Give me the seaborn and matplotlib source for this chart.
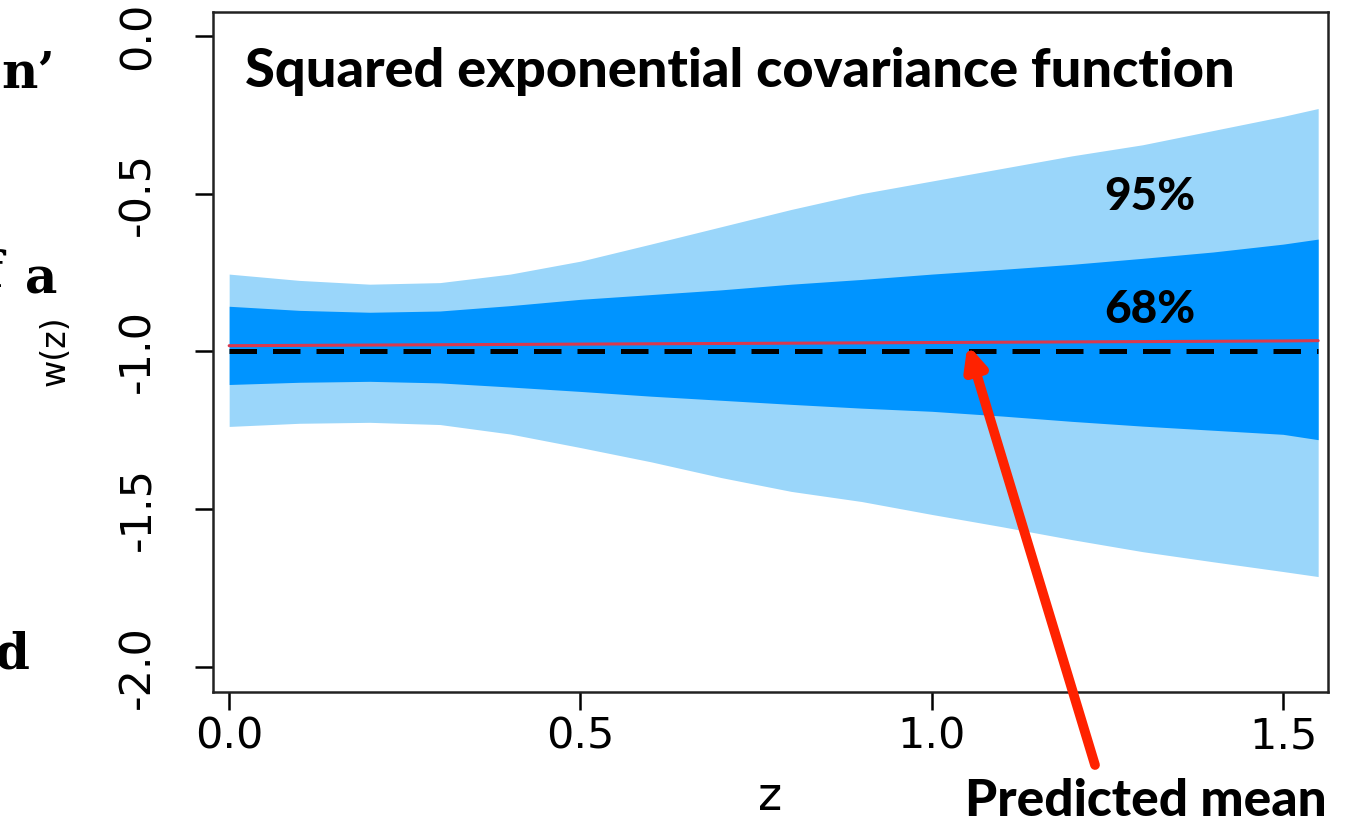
import numpy as np
import pandas as pd
import matplotlib
matplotlib.use("Agg")
import matplotlib.pyplot as plt
from matplotlib import font_manager as fm
import seaborn as sns

# ---- data ----
z = [0.0, 0.1, 0.2, 0.3, 0.4, 0.5, 0.6, 0.7, 0.8, 0.9, 1.0, 1.1, 1.2, 1.3, 1.4, 1.5, 1.55]
upper95 = [-0.755, -0.775, -0.787, -0.782, -0.755, -0.714, -0.66, -0.605, -0.55, -0.50,
           -0.46, -0.42, -0.38, -0.345, -0.30, -0.255, -0.23]
upper68 = [-0.857, -0.870, -0.876, -0.872, -0.855, -0.835, -0.82, -0.805, -0.787, -0.772,
           -0.755, -0.74, -0.724, -0.705, -0.685, -0.66, -0.644]
lower68 = [-1.105, -1.098, -1.095, -1.100, -1.113, -1.127, -1.142, -1.155, -1.168, -1.18,
           -1.19, -1.205, -1.222, -1.237, -1.25, -1.263, -1.28]
lower95 = [-1.238, -1.228, -1.225, -1.232, -1.262, -1.305, -1.35, -1.40, -1.444, -1.476,
           -1.517, -1.556, -1.597, -1.635, -1.667, -1.698, -1.714]
pred_mean = [-0.982, -0.981, -0.980, -0.979, -0.978, -0.977, -0.976, -0.975, -0.974, -0.973,
             -0.972, -0.971, -0.970, -0.969, -0.968, -0.967, -0.966]
true_w = [-1.0] * len(z)

xticks = [0.0, 0.5, 1.0, 1.5]
yticks = [0.0, -0.5, -1.0, -1.5, -2.0]

df = pd.DataFrame({"z": z, "mean": pred_mean, "truth": true_w})

sns.set_style("white")
plt.rcParams["font.family"] = ["DejaVu Sans"]
plt.rcParams["text.color"] = "black"
plt.rcParams["axes.labelcolor"] = "black"
plt.rcParams["xtick.color"] = "black"
plt.rcParams["ytick.color"] = "black"

installed = {f.name for f in fm.fontManager.ttflist}
if "Liberation Sans Narrow" in installed:
    yfont, ysize, ylab_size = "Liberation Sans Narrow", 37, 32
else:
    yfont, ysize, ylab_size = "DejaVu Sans", 31, 24

W, H = 1365, 825
fig = plt.figure(figsize=(13.65, 8.25), dpi=100)
ax = fig.add_axes([213 / W, 1 - 692 / H, (1328 - 213) / W, (692 - 12) / H])

ax.fill_between(z, lower95, upper95, color="#9AD6FA", linewidth=0)
ax.fill_between(z, lower68, upper68, color="#0094FF", linewidth=0)
sns.lineplot(data=df, x="z", y="mean", ax=ax, color="#D9394E", linewidth=2.2)
sns.lineplot(data=df, x="z", y="truth", ax=ax, color="black", linewidth=3.6)
ax.lines[-1].set_dashes([5.5, 3.2])

ax.set_xlim(-0.023, 1.564)
ax.set_ylim(-2.08, 0.076)
ax.set_xticks(xticks)
ax.set_xticklabels([f"{t:.1f}" for t in xticks], fontsize=31)
ax.set_yticks(yticks)
ax.set_yticklabels([f"{t:.1f}" for t in yticks], fontsize=ysize, family=yfont,
                   rotation=90, va="center")
ax.tick_params(axis="both", direction="out", length=13, width=1.8, color="black",
               bottom=True, left=True)
ax.tick_params(axis="x", pad=4)
ax.tick_params(axis="y", pad=26)
for s in ax.spines.values():
    s.set_visible(True)
    s.set_color("#222222")
    s.set_linewidth(1.8)
ax.set_xlabel("z", fontsize=33)
ax.xaxis.set_label_coords((770 - 213) / (1328 - 213), -(775 - 692) / (692 - 12))
ax.set_ylabel("w(z)", fontsize=ylab_size, family=yfont)
ax.yaxis.set_label_coords(-(213 - 72) / (1328 - 213), (692 - 351) / (692 - 12))

bold_font = ["Lato", "DejaVu Sans"]
fig.text(245 / W, 1 - 72 / H, "Squared exponential covariance function",
         fontsize=39, fontweight="black", family=bold_font, va="center", ha="left")
fig.text(1150 / W, 1 - 197 / H, "95%", fontsize=33, fontweight="black",
         family=bold_font, ha="center", va="center")
fig.text(1150 / W, 1 - 310 / H, "68%", fontsize=33, fontweight="black",
         family=bold_font, ha="center", va="center")
fig.text(1146 / W, 1 - 802 / H, "Predicted mean", fontsize=37, fontweight="black",
         family=bold_font, ha="center", va="center")

# slide-text fragments cut at the left edge
frag_font = ["DejaVu Serif"]
fig.text(55 / W, 1 - 75 / H, "n’", fontsize=36, fontweight="bold",
         family=frag_font, ha="right", va="center")
fig.text(57 / W, 1 - 280 / H, "a", fontsize=36, fontweight="bold",
         family=frag_font, ha="right", va="center")
fig.text(3 / W, 1 - 274 / H, "f", fontsize=36, fontweight="bold",
         family=frag_font, ha="right", va="center")
fig.text(30 / W, 1 - 655 / H, "d", fontsize=36, fontweight="bold",
         family=frag_font, ha="right", va="center")

ax.annotate("", xy=(1.051, -0.978), xycoords="data",
            xytext=(1095 / W, 1 - 765 / H), textcoords="figure fraction",
            arrowprops=dict(arrowstyle="-|>,head_length=1.3,head_width=0.6",
                            color="#FF2200", lw=7, shrinkA=0, shrinkB=0),
            annotation_clip=False)

fig.savefig("out.png", dpi=100)
